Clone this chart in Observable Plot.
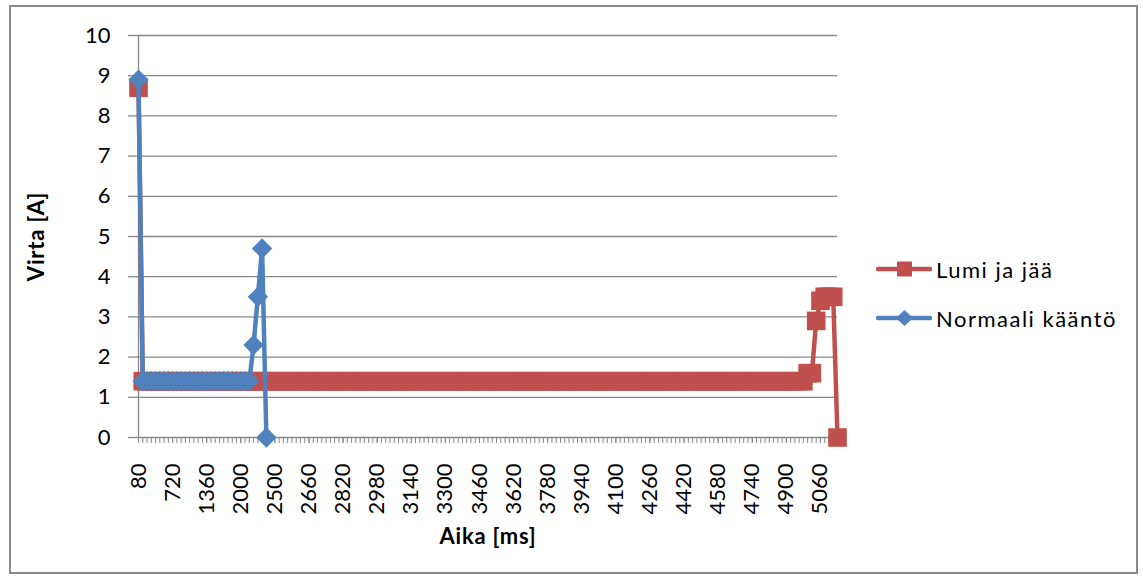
<!DOCTYPE html>
<html>
<head>
<meta charset="utf-8">
<script src="https://cdn.jsdelivr.net/npm/d3@7"></script>
<script src="https://cdn.jsdelivr.net/npm/@observablehq/plot@0.6"></script>
<style>
  body { margin: 0; background: #fff; font-family: Lato, "Open Sans", sans-serif; }
  #frame { position: absolute; left: 9px; top: 5px; width: 1129px; height: 569px;
           border: 2px solid #8a8a8a; box-sizing: border-box; }
  #chart { position: absolute; left: 0; top: 0; }
  #chart svg { overflow: visible; }
  #chart g[aria-label="x-axis label"] text,
  #chart g[aria-label="y-axis label"] text { font-weight: bold; letter-spacing: 0.8px; }
  #legend { position: absolute; left: 876px; top: 254px; font-size: 22px; color: #000;
            letter-spacing: 1.5px; word-spacing: 0px; }
  #legend .row { display: flex; align-items: center; height: 30px; margin-bottom: 19px; }
  #legend svg { margin-right: 4px; }
</style>
</head>
<body>
<div id="frame"></div>
<div id="chart"></div>
<div id="legend"></div>
<script>
// Sample times (ms) on the category axis
const categories = [
  80,160,240,320,400,480,560,640,720,800,880,960,1040,1120,1200,1280,1360,1440,1520,1600,
  1680,1760,1840,1920,2000,2080,2160,2240,2320,2400,2440,2480,
  2500,2520,2540,2560,2580,2600,2620,2640,2660,2680,2700,2720,2740,2760,2780,2800,2820,2840,
  2860,2880,2900,2920,2940,2960,2980,3000,3020,3040,3060,3080,3100,3120,3140,3160,3180,3200,
  3220,3240,3260,3280,3300,3320,3340,3360,3380,3400,3420,3440,3460,3480,3500,3520,3540,3560,
  3580,3600,3620,3640,3660,3680,3700,3720,3740,3760,3780,3800,3820,3840,3860,3880,3900,3920,
  3940,3960,3980,4000,4020,4040,4060,4080,4100,4120,4140,4160,4180,4200,4220,4240,4260,4280,
  4300,4320,4340,4360,4380,4400,4420,4440,4460,4480,4500,4520,4540,4560,4580,4600,4620,4640,
  4660,4680,4700,4720,4740,4760,4780,4800,4820,4840,4860,4880,4900,4920,4940,4960,4980,5000,
  5020,5040,5060,5080,5100,5120,5140
];

// Labelled categories on the time axis
const tickLabels = [80,720,1360,2000,2500,2660,2820,2980,3140,3300,3460,3620,3780,3940,
                    4100,4260,4420,4580,4740,4900,5060];

// Current axis ticks (A)
const yTicks = [0,1,2,3,4,5,6,7,8,9,10];

// Current (A), snow and ice
const lumiJaJaa = [
  8.7,
  1.4,1.4,1.4,1.4,1.4,1.4,1.4,1.4,1.4,1.4,1.4,1.4,1.4,1.4,1.4,1.4,1.4,1.4,1.4,1.4,
  1.4,1.4,1.4,1.4,1.4,1.4,1.4,1.4,1.4,1.4,1.4,1.4,1.4,1.4,1.4,1.4,1.4,1.4,1.4,1.4,
  1.4,1.4,1.4,1.4,1.4,1.4,1.4,1.4,1.4,1.4,1.4,1.4,1.4,1.4,1.4,1.4,1.4,1.4,1.4,1.4,
  1.4,1.4,1.4,1.4,1.4,1.4,1.4,1.4,1.4,1.4,1.4,1.4,1.4,1.4,1.4,1.4,1.4,1.4,1.4,1.4,
  1.4,1.4,1.4,1.4,1.4,1.4,1.4,1.4,1.4,1.4,1.4,1.4,1.4,1.4,1.4,1.4,1.4,1.4,1.4,1.4,
  1.4,1.4,1.4,1.4,1.4,1.4,1.4,1.4,1.4,1.4,1.4,1.4,1.4,1.4,1.4,1.4,1.4,1.4,1.4,1.4,
  1.4,1.4,1.4,1.4,1.4,1.4,1.4,1.4,1.4,1.4,1.4,1.4,1.4,1.4,1.4,1.4,1.4,1.4,1.4,1.4,
  1.4,1.4,1.4,1.4,1.4,1.4,1.4,1.4,1.4,1.4,1.4,1.4,1.4,1.4,1.4,1.4,
  1.6,1.6,2.9,3.4,3.5,3.5,3.5,0
];

// Current (A), normal turn
const normaaliKaanto = [
  8.9,
  1.4,1.4,1.4,1.4,1.4,1.4,1.4,1.4,1.4,1.4,1.4,1.4,1.4,1.4,1.4,1.4,1.4,1.4,1.4,1.4,
  1.4,1.4,1.4,1.4,1.4,1.4,
  2.3,3.5,4.7,0
];

const RED = "#C0504D";
const BLUE = "#4F81BD";
const GRID = "#878787";

const redRows = lumiJaJaa.map((v, i) => ({t: categories[i], v}));
const blueRows = normaaliKaanto.map((v, i) => ({t: categories[i], v}));

const W = 1143, H = 578;

const chart = Plot.plot({
  width: W,
  height: H,
  marginLeft: 138,
  marginRight: 306,
  marginTop: 35,
  marginBottom: 141,
  style: { fontFamily: "Lato, 'Open Sans', sans-serif", fontSize: "22px", color: "#000", background: "transparent" },
  x: { type: "point", domain: categories, padding: 0 },
  y: { domain: [0, 10] },
  marks: [
    Plot.gridY(yTicks, { stroke: GRID, strokeOpacity: 1, strokeWidth: 1.3 }),
    Plot.ruleX([categories[0]], { stroke: GRID, strokeWidth: 1.3 }),
    Plot.axisY(yTicks, {
      tickSize: 10, tickPadding: 18, stroke: GRID, strokeWidth: 1.3, fontSize: 22,
      label: "Virta [A]", labelAnchor: "center", labelArrow: "none", labelOffset: 110
    }),
    Plot.axisX(categories, {
      tickSize: 6, stroke: GRID, strokeWidth: 1, tickFormat: () => "", label: null
    }),
    Plot.axisX(tickLabels, {
      tickSize: 6, stroke: GRID, strokeWidth: 1, tickRotate: -90, tickPadding: 20, fontSize: 22,
      tickFormat: d => String(d),
      label: "Aika [ms]", labelAnchor: "center", labelArrow: "none", labelOffset: 106
    }),
    // Snow and ice series
    Plot.line(redRows, { x: "t", y: "v", stroke: RED, strokeWidth: 4.5, strokeLinejoin: "round" }),
    Plot.dot(redRows, { x: "t", y: "v", symbol: "square", r: 10.5, fill: RED, stroke: null }),
    // Normal turn series
    Plot.line(blueRows, { x: "t", y: "v", stroke: BLUE, strokeWidth: 4.5, strokeLinejoin: "round" }),
    Plot.dot(blueRows, { x: "t", y: "v", symbol: "diamond2", r: 9.2, fill: BLUE, stroke: null })
  ]
});
document.getElementById("chart").appendChild(chart);

// Legend: line with marker, then series name
const legendItems = [
  { name: "Lumi ja jää", color: RED, shape: "square" },
  { name: "Normaali kääntö", color: BLUE, shape: "diamond" }
];
const legend = d3.select("#legend");
for (const item of legendItems) {
  const row = legend.append("div").attr("class", "row");
  const s = row.append("svg").attr("width", 56).attr("height", 30);
  s.append("line").attr("x1", 2).attr("x2", 54).attr("y1", 15).attr("y2", 15)
    .attr("stroke", item.color).attr("stroke-width", 4.5).attr("stroke-linecap", "round");
  if (item.shape === "square") {
    s.append("rect").attr("x", 21).attr("y", 7.5).attr("width", 15).attr("height", 15).attr("fill", item.color);
  } else {
    s.append("path").attr("d", "M28.5,7L37,15L28.5,23L20,15Z").attr("fill", item.color);
  }
  row.append("span").text(item.name);
}
</script>
</body>
</html>
